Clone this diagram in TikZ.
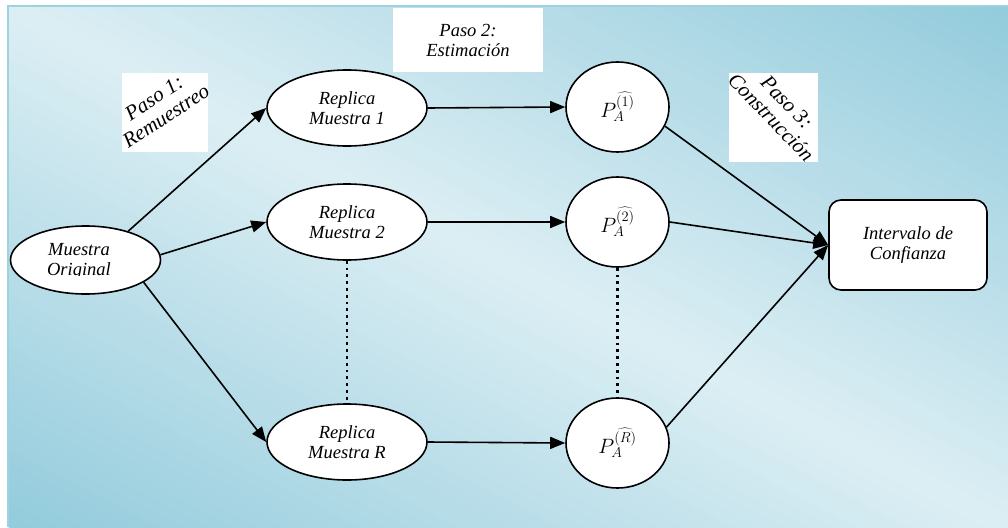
\documentclass[tikz,border=0pt]{standalone}
\usepackage{fontspec}
\setmainfont{Liberation Serif}
\usetikzlibrary{shapes.geometric,arrows.meta}
\definecolor{bglight}{HTML}{DCEEF4}
\definecolor{bgdark}{HTML}{92CBDC}
\definecolor{bgborder}{HTML}{9DD2DF}
\begin{document}
\begin{tikzpicture}[x=1pt,y=-1pt,
  txt/.style={font=\itshape\fontsize{18.5}{20}\selectfont, align=center},
  rtxt/.style={font=\itshape\fontsize{21}{22}\selectfont, align=center},
  ell/.style={ellipse, draw, fill=white, line width=1.6pt, inner sep=0pt},
  rep/.style={ell, minimum width=160pt, minimum height=76pt, txt},
  est/.style={ell, minimum width=103pt, minimum height=90pt, font=\fontsize{20}{22}\selectfont},
  arr/.style={line width=1.6pt, -{Triangle[length=15pt,width=12pt]}},
  dots/.style={line width=2.8pt, dash pattern=on 2.8pt off 4pt},
  lab/.style={fill=white, inner sep=0pt}]
\useasboundingbox (0,0) rectangle (1008,527);
% background gradient
\begin{scope}[shift={(8,6)}, x=1000pt, y=-521pt]
  \clip (0,0) rectangle (1,1);
  \foreach \i in {0,...,79}{
    \pgfmathsetmacro\ca{-1+\i*0.025}
    \pgfmathsetmacro\cb{\ca+0.03}
    \pgfmathtruncatemacro\pct{100*abs(\ca+0.0125)}
    \fill[bgdark!\pct!bglight] (\ca-1,-1) -- (\ca+2,2) -- (\cb+2,2) -- (\cb-1,-1) -- cycle;
  }
\end{scope}
\draw[bgborder, line width=1.5pt] (8,527) -- (8,6) -- (1008,6);
% step labels
\node[lab, minimum width=86pt, minimum height=79pt] (l1) at (165,112.5) {};
\begin{scope}
  \clip (l1.south west) rectangle (l1.north east);
  \node[rtxt, rotate=33] (l1t) at (160,107) {Paso 1:\\Remuestreo};
\end{scope}
\node[lab, minimum width=150pt, minimum height=63pt, txt] (l2) at (468,40) {Paso 2:\\Estimación};
\node[lab, minimum width=89pt, minimum height=89pt] (l3) at (773.5,117.5) {};
\begin{scope}
  \clip (l3.south west) rectangle (l3.north east);
  \node[rtxt, rotate=-46] (l3t) at (779,110) {Paso 3:\\Construcción};
\end{scope}
% nodes
\node[ell, minimum width=150pt, minimum height=68pt] (orig) at (85.5,260) {};
\begin{scope}
  \clip (10,236) rectangle (165,275.5);
  \node[txt] (origt) at (79,261) {Muestra\\Original};
\end{scope}
\node[rep] (r1) at (347,108) {Replica\\Muestra 1};
\node[rep] (r2) at (347,222) {Replica\\Muestra 2};
\node[rep] (rR) at (347,442) {Replica\\Muestra R};
\node[est] (p1) at (617.5,107) {$P_A^{\widehat{(1)}}$};
\node[est] (p2) at (617.5,222) {$P_A^{\widehat{(2)}}$};
\node[est] (pR) at (617.5,443) {$P_A^{\widehat{(R)}}$};
\node[draw, fill=white, rounded corners=12pt, line width=1.6pt, minimum width=158pt, minimum height=90pt, txt] (ci) at (908,245) {Intervalo de\\Confianza};
% connectors
\draw[arr] (orig.34) -- (r1.west);
\draw[arr] (orig.4) -- (r2.west);
\draw[arr] (orig.-21) -- (rR.west);
\draw[arr] (r1.east) -- (p1.west);
\draw[arr] (r2.east) -- (p2.west);
\draw[arr] (rR.east) -- (pR.west);
\draw[arr] (p1.-22) -- (ci.west);
\draw[arr] (p2.east) -- (ci.west);
\draw[arr] (pR.18) -- (ci.west);
\draw[dots] (r2.south) -- (rR.north);
\draw[dots] (p2.south) -- (pR.north);
\end{tikzpicture}
\end{document}
